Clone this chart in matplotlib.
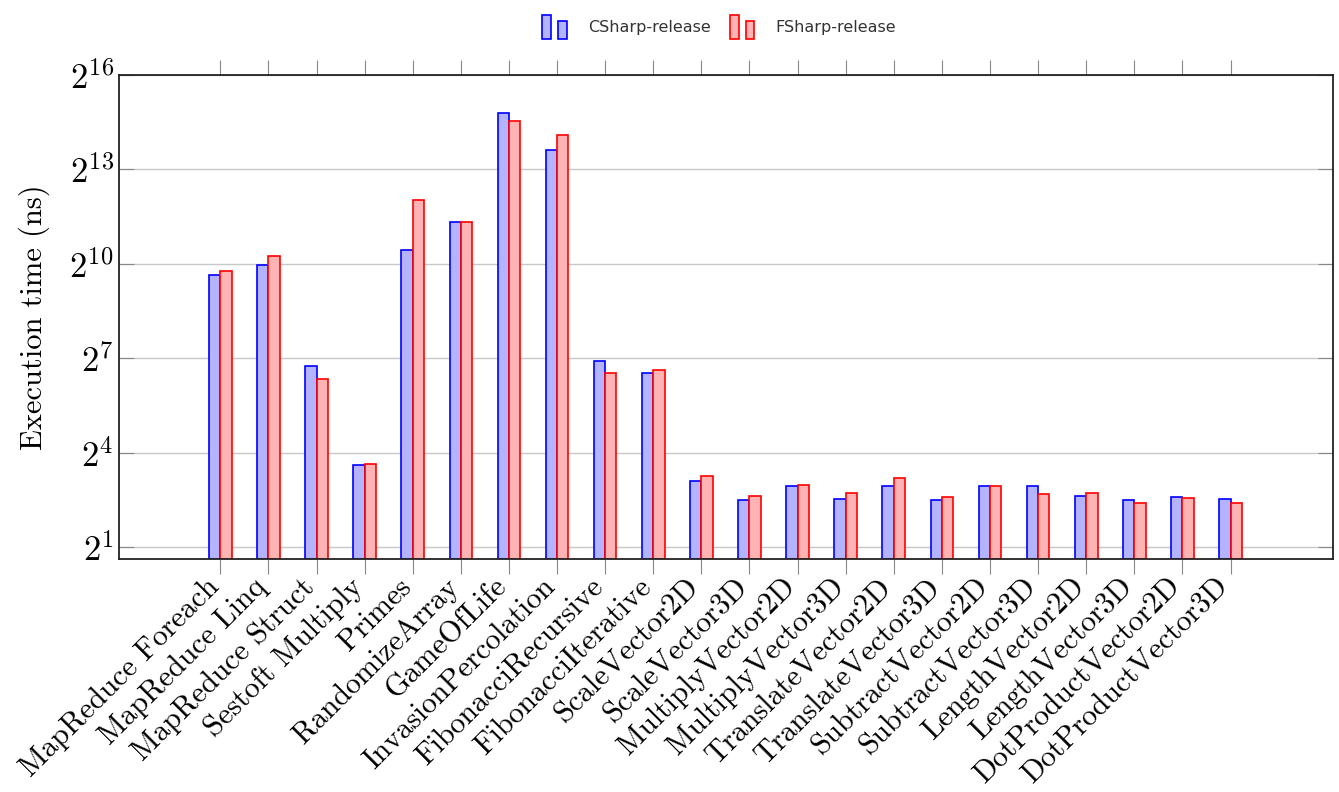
import numpy as np
import matplotlib
matplotlib.use("Agg")
import matplotlib.pyplot as plt
import matplotlib.transforms as mtransforms
from matplotlib.patches import Rectangle, Patch
from matplotlib.legend_handler import HandlerBase
from matplotlib.ticker import FixedLocator, FuncFormatter

plt.rcParams['mathtext.fontset'] = 'cm'

benchmarks = [
    "MapReduce Foreach", "MapReduce Linq", "MapReduce Struct", "Sestoft Multiply",
    "Primes", "RandomizeArray", "GameOfLife", "InvasionPercolation",
    "FibonacciRecursive", "FibonacciIterative", "ScaleVector2D", "ScaleVector3D",
    "MultiplyVector2D", "MultiplyVector3D", "TranslateVector2D", "TranslateVector3D",
    "SubtractVector2D", "SubtractVector3D", "LengthVector2D", "LengthVector3D",
    "DotProductVector2D", "DotProductVector3D",
]

# mean execution time in ns
csharp_ns = [792, 996, 106, 10.7, 1399, 2556, 27940, 12590, 117.8, 90.5, 7.0, 4.17,
             6.23, 4.2, 6.19, 4.17, 6.19, 6.15, 4.69, 4.14, 4.5, 4.2]
fsharp_ns = [873, 1209, 78.8, 10.9, 4181, 2556, 23490, 17440, 91.1, 97.7, 8.0, 4.63,
             6.41, 4.99, 7.67, 4.56, 6.19, 4.96, 5.03, 3.76, 4.32, 3.76]

series = [
    ("CSharp-release", csharp_ns, "#0000ff", "#b3b3ff"),
    ("FSharp-release", fsharp_ns, "#ff0000", "#ffb3b3"),
]

ytick_exp = [1, 4, 7, 10, 13, 16]


class TwoBarHandler(HandlerBase):
    """legend icon made of a tall and a short bar"""
    def create_artists(self, legend, orig_handle, xdescent, ydescent,
                       width, height, fontsize, trans):
        fc = orig_handle.get_facecolor()
        ec = orig_handle.get_edgecolor()
        w = width * 0.36
        r1 = Rectangle((-xdescent, -ydescent), w, height,
                       facecolor=fc, edgecolor=ec, lw=1.2, transform=trans)
        r2 = Rectangle((-xdescent + width * 0.64, -ydescent), w, height * 0.76,
                       facecolor=fc, edgecolor=ec, lw=1.2, transform=trans)
        return [r1, r2]


fig = plt.figure(figsize=(13.39, 7.92), dpi=100)
ax = fig.add_axes([0.0891, 0.2942, 0.9064, 0.6115])

x = np.arange(len(benchmarks))
bw = 0.235
handles = []
for i, (name, vals, ec, fc) in enumerate(series):
    offs = -bw if i == 0 else 0.0
    ax.bar(x + offs, vals, width=bw, align='edge', bottom=2 ** 0.63,
           facecolor=fc, edgecolor=ec, linewidth=1.2, zorder=3)
    handles.append(Patch(facecolor=fc, edgecolor=ec, label=name))

ax.set_yscale('log', base=2)
ax.set_ylim(2 ** 0.63, 2 ** 16)
ax.set_xlim(-2.1, 23.13)

ax.yaxis.set_major_locator(FixedLocator([2.0 ** e for e in ytick_exp]))
ax.yaxis.set_minor_locator(FixedLocator([]))
ax.yaxis.set_major_formatter(FuncFormatter(lambda v, p: r"$2^{%d}$" % round(np.log2(v))))
ax.grid(axis='y', color='#c8c8c8', linewidth=1.0, zorder=0)

ax.set_xticks(x)
ax.set_xticklabels(benchmarks, rotation=45, ha='right', va='center',
                   rotation_mode='anchor', fontfamily='cmr10', fontsize=21.5)
ax.tick_params(axis='x', direction='out', length=11, color='#888888',
               top=True, bottom=True, pad=6)
ax.tick_params(axis='y', direction='in', length=11, color='#888888',
               left=True, right=True, labelsize=25, pad=4)

# nudge rotated labels a little to the left
shift = mtransforms.ScaledTranslation(-6 / 100, 0, fig.dpi_scale_trans)
for lbl in ax.get_xticklabels():
    lbl.set_transform(lbl.get_transform() + shift)

for s in ax.spines.values():
    s.set_color('#222222')
    s.set_linewidth(1.3)
    s.set_zorder(4)

ax.set_ylabel("Execution time (ns)", fontfamily='cmr10', fontsize=22, labelpad=14)

fig.legend(handles=handles, handler_map={Patch: TwoBarHandler()},
           loc='center', bbox_to_anchor=(0.537, 0.966), ncol=2, frameon=False,
           fontsize=11.5, handlelength=1.55, handleheight=2.0,
           handletextpad=1.3, columnspacing=1.2, labelcolor='#333333')

fig.savefig("out.png", dpi=100)
